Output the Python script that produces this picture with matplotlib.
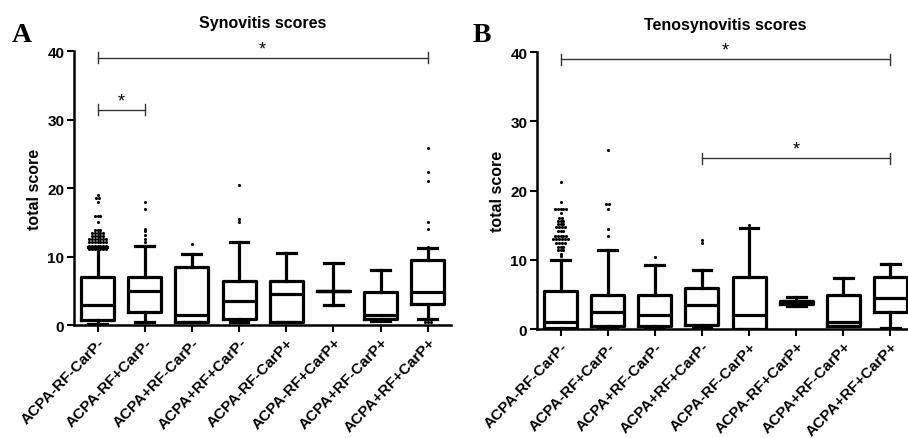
import matplotlib

matplotlib.use("Agg")
import matplotlib.pyplot as plt
from collections import Counter

plt.rcParams["font.family"] = ["Liberation Sans", "DejaVu Sans"]

groups = [
    "ACPA-RF-CarP-", "ACPA-RF+CarP-", "ACPA+RF-CarP-", "ACPA+RF+CarP-",
    "ACPA-RF-CarP+", "ACPA-RF+CarP+", "ACPA+RF-CarP+", "ACPA+RF+CarP+",
]

# Synovitis box statistics
syn_lo = [0.2, 0.5, 0.4, 0.5, 0.4, 3.0, 0.6, 0.9]
syn_q1 = [0.8, 1.9, 0.5, 0.9, 0.5, 5.0, 0.9, 3.1]
syn_med = [3.0, 5.0, 1.5, 3.5, 4.5, 5.0, 1.5, 4.8]
syn_q3 = [7.1, 7.1, 8.5, 6.4, 6.5, 5.0, 4.8, 9.5]
syn_hi = [11.4, 11.5, 10.4, 12.1, 10.6, 9.0, 8.0, 11.2]
syn_fliers = [
    [11.1] * 7 + [11.6] * 7 + [12.1] * 7 + [12.6] * 7 + [13.0] * 5 + [13.5] * 5 + [13.9] * 3
    + [15.0] + [16.0] * 3 + [18.0] + [18.5] * 2 + [19.0],
    [12.2, 12.6, 13.1, 13.7, 14.0, 17.0, 18.0],
    [11.8],
    [15.0, 15.5, 20.5],
    [],
    [],
    [],
    [0.4] * 3 + [11.4, 14.0, 15.0, 21.0, 22.4, 25.9],
]
syn_sig = [(1, 8, 39.0), (1, 2, 31.4)]

# Tenosynovitis box statistics
ten_lo = [0.0, 0.1, 0.1, 0.1, 0.0, 3.4, 0.4, 0.1]
ten_q1 = [0.2, 0.5, 0.5, 0.6, 0.0, 3.7, 0.5, 2.5]
ten_med = [1.0, 2.5, 2.0, 3.5, 2.0, 4.0, 1.0, 4.5]
ten_q3 = [5.5, 5.0, 5.0, 6.0, 7.5, 4.1, 5.0, 7.5]
ten_hi = [10.0, 11.4, 9.3, 8.5, 14.6, 4.6, 7.4, 9.4]
ten_fliers = [
    [10.5, 10.8] + [11.4] * 3 + [11.9] * 3 + [12.5] * 4 + [13.0] * 6 + [13.5] * 5 + [14.2] * 3
    + [14.7] * 4 + [15.2] * 3 + [15.6] * 3 + [16.1] * 2 + [16.7] + [17.3] * 5 + [18.4] + [21.3],
    [13.4, 14.4, 17.4, 18.0, 18.0, 25.9],
    [10.4],
    [12.4, 12.9],
    [15.0],
    [],
    [],
    [],
]
ten_sig = [(1, 8, 39.0), (4, 8, 24.7)]

positions = list(range(1, len(groups) + 1))


def draw_panel(ax, lo, q1, med, q3, hi, fliers, sig, title):
    stats = [
        {"whislo": lo[i], "q1": q1[i], "med": med[i], "q3": q3[i], "whishi": hi[i], "fliers": []}
        for i in range(len(groups))
    ]
    lw = 2.3
    ax.bxp(
        stats,
        positions=positions,
        widths=0.7,
        capwidths=0.4,
        showfliers=False,
        boxprops=dict(color="black", linewidth=lw),
        medianprops=dict(color="black", linewidth=lw),
        whiskerprops=dict(color="black", linewidth=lw),
        capprops=dict(color="black", linewidth=lw),
    )
    step = 0.06
    for pos, vals in zip(positions, fliers):
        for val, n in Counter(vals).items():
            xs = [pos + (k - (n - 1) / 2) * step for k in range(n)]
            ax.scatter(xs, [val] * n, s=5, color="black", zorder=3, clip_on=False, linewidths=0)

    for a, b, y in sig:
        ax.plot([a, b], [y, y], color="#333333", lw=1.0, clip_on=False)
        for xe in (a, b):
            ax.plot([xe, xe], [y - 0.8, y + 0.8], color="#333333", lw=1.0, clip_on=False)
        ax.text((a + b) / 2, y + 0.1, "*", ha="center", va="bottom", fontsize=13, clip_on=False)

    ax.set_xlim(0.5, 8.5)
    ax.set_ylim(0, 40)
    ax.set_yticks([0, 10, 20, 30, 40])
    ax.set_xticks(positions)
    ax.set_xticklabels(groups, rotation=46, ha="right", rotation_mode="anchor",
                       fontsize=11, fontweight="bold")
    for lab in ax.get_yticklabels():
        lab.set_fontweight("bold")
        lab.set_fontsize(11)
    ax.tick_params(axis="both", direction="out", length=5, width=1.5, pad=2)
    ax.spines["top"].set_visible(False)
    ax.spines["right"].set_visible(False)
    ax.spines["left"].set_linewidth(1.8)
    ax.spines["bottom"].set_linewidth(1.8)
    ax.set_ylabel("total score", fontsize=11.5, fontweight="bold", labelpad=4)
    ax.set_title(title, fontsize=11.5, fontweight="bold", pad=17)


fig = plt.figure(figsize=(9.08, 4.39), dpi=100)
ax_a = fig.add_axes([0.0815, 0.257, 0.4155, 0.6245])
ax_b = fig.add_axes([0.5914, 0.248, 0.4152, 0.631])

draw_panel(ax_a, syn_lo, syn_q1, syn_med, syn_q3, syn_hi, syn_fliers, syn_sig, "Synovitis scores")
draw_panel(ax_b, ten_lo, ten_q1, ten_med, ten_q3, ten_hi, ten_fliers, ten_sig, "Tenosynovitis scores")

fig.text(0.013, 0.905, "A", fontsize=20, fontweight="bold", family=["Liberation Serif", "DejaVu Serif"])
fig.text(0.52, 0.905, "B", fontsize=20, fontweight="bold", family=["Liberation Serif", "DejaVu Serif"])

fig.savefig("out.png", dpi=100)
plt.close(fig)
